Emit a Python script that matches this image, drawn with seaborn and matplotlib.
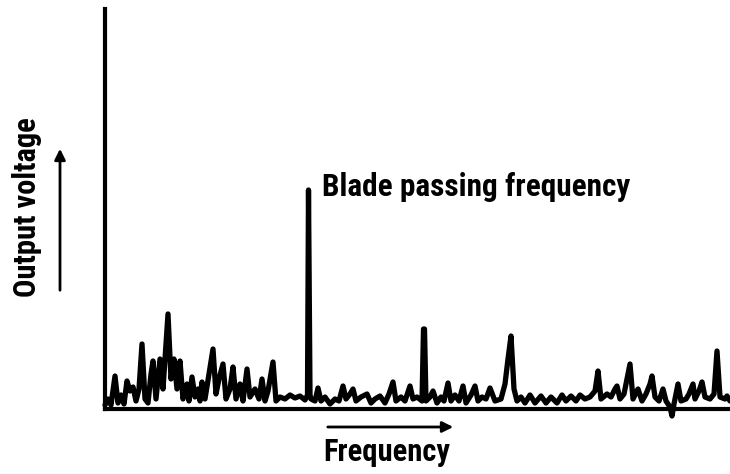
import matplotlib
matplotlib.use("Agg")
import matplotlib.pyplot as plt
import seaborn as sns
import pandas as pd
from matplotlib import font_manager

# Frequency (arbitrary units) and output voltage (arbitrary units)
frequency = [0, 3, 6, 10, 13, 16, 19, 22, 25, 28, 31, 34, 37, 40, 43, 46, 48, 51, 55, 58,
             63, 66, 69, 72, 75, 78, 82, 84, 87, 90, 93, 95, 97, 100, 104, 108, 111, 114, 118, 121,
             125, 128, 131, 135, 138, 142, 145, 150, 154, 157, 160, 163, 168, 171, 175, 180, 185, 190, 195, 200,
             202.5, 203.5, 205, 206, 210, 213, 216, 220, 225, 230, 234, 238, 241, 245, 248, 251, 256, 262, 266, 270,
             275, 280, 284, 288, 291, 296, 300, 305, 308, 312, 317, 318.5, 319.5, 321, 325, 328, 332, 336, 339, 343,
             346, 350, 354, 358, 361, 366, 370, 373, 377, 381, 385, 390, 396, 400, 403, 406, 409, 412, 416, 420,
             425, 430, 436, 441, 446, 452, 457, 461, 466, 471, 475, 480, 485, 490, 493, 496, 502, 506, 510, 512,
             515, 519, 522, 525, 528, 533, 537, 541, 545, 547, 550, 554, 558, 561, 565, 567, 569, 573, 576, 581,
             584, 588, 590, 594, 597, 600, 605, 609, 612, 615, 620, 622, 625]
voltage = [4, 10, 4, 33, 6, 14, 5, 28, 18, 22, 8, 20, 65, 10, 6, 35, 48, 10, 50, 20,
           95, 30, 50, 20, 48, 10, 25, 8, 32, 12, 20, 8, 27, 10, 35, 60, 15, 30, 45, 10,
           20, 42, 10, 25, 8, 40, 12, 20, 10, 30, 8, 18, 47, 8, 12, 10, 14, 11, 13, 9,
           14, 219, 14, 10, 8, 21, 8, 12, 5, 10, 8, 23, 10, 15, 20, 8, 12, 15, 6, 10,
           13, 6, 15, 27, 8, 12, 8, 23, 10, 12, 8, 80, 80, 8, 12, 18, 6, 12, 8, 26,
           8, 14, 8, 23, 6, 14, 23, 8, 12, 10, 21, 8, 10, 25, 50, 73, 20, 8, 12, 6,
           14, 6, 13, 6, 12, 6, 14, 8, 13, 8, 14, 10, 12, 18, 38, 10, 15, 12, 20, 23,
           10, 15, 30, 45, 10, 20, 8, 15, 25, 33, 12, 8, 20, 8, 2, -7, 5, 25, 8, 10,
           15, 25, 10, 18, 27, 12, 10, 15, 58, 12, 10, 13, 8]

x_label = "Frequency"
y_label = "Output voltage"
annotation = "Blade passing frequency"

df = pd.DataFrame({"frequency": frequency, "voltage": voltage})

sns.set_style("white")
names = {f.name for f in font_manager.fontManager.ttflist}
cond = [n for n in ["Liberation Sans Narrow", "DejaVu Sans Condensed", "Roboto Condensed",
                    "Open Sans Condensed"] if n in names]
plt.rcParams["font.family"] = cond + ["DejaVu Sans"]

W, H = 730, 474
fig = plt.figure(figsize=(W / 100, H / 100), dpi=100)
ax = fig.add_axes([105 / W, 65 / H, 625 / W, 400 / H])

sns.lineplot(data=df, x="frequency", y="voltage", ax=ax, color="black",
             linewidth=3.8, solid_joinstyle="round", solid_capstyle="round",
             estimator=None, sort=False, clip_on=False)

ax.set_xlim(0, 625)
ax.set_ylim(0, 400)
ax.set_xlabel("")
ax.set_ylabel("")
ax.set_xticks([])
ax.set_yticks([])
for s in ["top", "right"]:
    ax.spines[s].set_visible(False)
for s in ["left", "bottom"]:
    ax.spines[s].set_color("black")
    ax.spines[s].set_linewidth(3)

txt_kw = dict(color="black", fontweight="bold", fontstretch="condensed")
ax.text(217, 213, annotation, fontsize=22.5, ha="left", va="baseline", **txt_kw)

fig.text(27 / W, 267 / H, y_label, rotation=90, ha="center", va="center",
         fontsize=22, **txt_kw)
fig.text(387 / W, 13 / H, x_label, ha="center", va="baseline", fontsize=22, **txt_kw)

arrow = dict(arrowstyle="-|>", color="black", lw=2, mutation_scale=16)
fig.add_artist(matplotlib.patches.FancyArrowPatch((60, 181), (60, 328),
                                                   transform=None, **arrow))
fig.add_artist(matplotlib.patches.FancyArrowPatch((325, 47), (456, 47),
                                                   transform=None, **arrow))

fig.savefig("out.png", dpi=100)
